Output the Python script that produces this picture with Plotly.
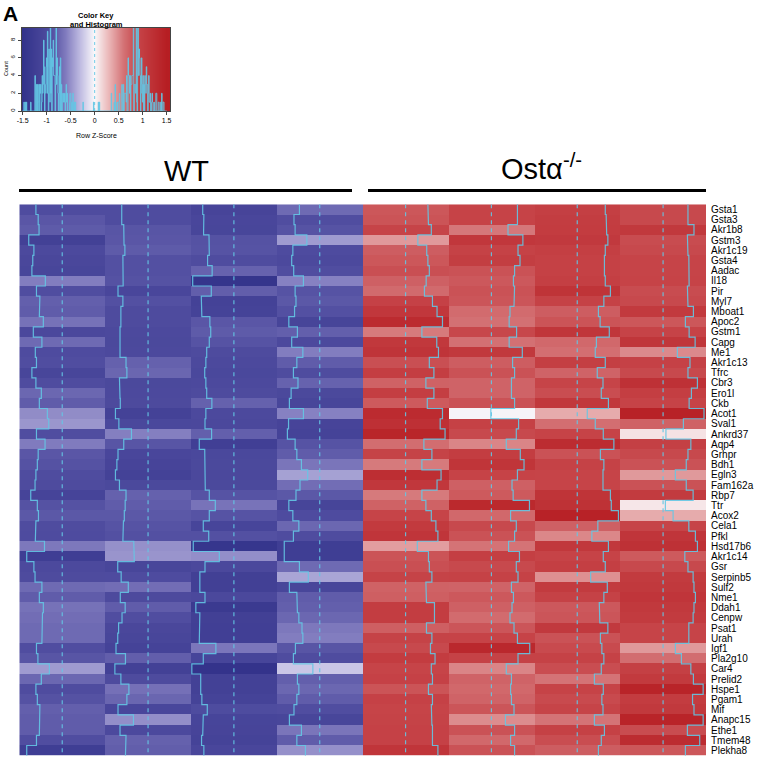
import numpy as np
import plotly.graph_objects as go

# genes, top to bottom
genes = ["Gsta1", "Gsta3", "Akr1b8", "Gstm3", "Akr1c19", "Gsta4", "Aadac", "Il18", "Pir",
         "Myl7", "Mboat1", "Apoc2", "Gstm1", "Capg", "Me1", "Akr1c13", "Tfrc", "Cbr3",
         "Ero1l", "Ckb", "Acot1", "Sval1", "Ankrd37", "Aqp4", "Grhpr", "Bdh1", "Egln3",
         "Fam162a", "Rbp7", "Ttr", "Acox2", "Cela1", "Pfkl", "Hsd17b6", "Akr1c14", "Gsr",
         "Serpinb5", "Sulf2", "Nme1", "Ddah1", "Cenpw", "Psat1", "Urah", "Igf1", "Pla2g10",
         "Car4", "Prelid2", "Hspe1", "Pgam1", "Mif", "Anapc15", "Ethe1", "Tmem48", "Plekha8"]

# row z-scores per sample column
wt_1 = [-0.92, -0.84, -0.81, -1.17, -0.99, -1.03, -1.06, -0.59, -0.90, -0.78, -0.80, -0.66, -1.01, -0.71,
        -0.94, -0.90, -1.06, -0.92, -0.73, -0.80, -0.52, -0.47, -0.90, -0.60, -0.84, -0.87, -0.92, -0.95,
        -1.10, -0.87, -0.83, -0.92, -0.94, -0.62, -1.24, -0.99, -0.95, -0.71, -0.80, -0.66, -0.69, -0.71,
        -0.71, -0.90, -0.85, -0.45, -0.73, -0.92, -0.87, -0.78, -0.80, -0.80, -0.90, -1.24]
wt_2 = [-0.92, -0.92, -0.85, -0.84, -0.81, -0.88, -0.88, -0.87, -1.05, -0.88, -0.95, -0.95, -0.98, -1.00,
        -0.98, -0.77, -0.74, -1.00, -0.98, -0.97, -1.14, -1.02, -0.58, -0.85, -1.05, -1.09, -1.14, -1.00,
        -0.77, -0.80, -0.83, -0.86, -0.88, -0.50, -0.48, -1.06, -0.94, -0.69, -0.97, -0.80, -0.91, -1.03,
        -1.06, -1.12, -0.79, -1.16, -0.95, -0.67, -0.74, -1.05, -0.51, -0.98, -0.77, -0.79]
wt_3 = [-1.09, -1.05, -1.06, -0.87, -0.86, -0.92, -0.76, -1.44, -0.79, -1.14, -1.12, -0.84, -0.81, -0.86,
        -0.95, -0.98, -1.02, -0.98, -0.95, -0.77, -0.98, -1.01, -0.78, -1.21, -1.02, -1.00, -1.01, -1.00,
        -0.86, -0.65, -0.86, -1.07, -0.88, -1.42, -0.51, -1.01, -1.19, -1.19, -1.01, -1.33, -1.19, -1.21,
        -1.21, -0.63, -1.07, -1.47, -1.16, -1.16, -1.12, -0.93, -1.07, -1.09, -1.13, -1.05]
wt_4 = [-0.71, -0.90, -0.86, -0.45, -0.94, -0.98, -0.91, -0.57, -0.86, -0.83, -0.88, -1.08, -0.78, -0.98,
        -0.59, -0.80, -0.92, -0.76, -1.00, -1.06, -0.57, -1.09, -1.13, -0.86, -0.80, -0.64, -0.42, -0.69,
        -0.83, -1.08, -0.94, -0.73, -0.92, -1.24, -1.24, -0.71, -0.40, -1.06, -0.80, -0.78, -0.73, -0.62,
        -0.59, -0.85, -0.92, -0.24, -0.78, -0.73, -0.80, -0.90, -1.06, -0.64, -0.80, -0.50]
ko_1 = [0.78, 0.80, 0.90, 0.43, 0.74, 0.78, 0.83, 0.72, 0.66, 0.94, 1.10, 1.29, 0.57, 1.09,
        1.15, 0.83, 0.99, 0.71, 0.99, 0.76, 1.29, 1.21, 1.38, 0.64, 0.92, 0.57, 1.24, 1.10,
        0.57, 0.71, 0.90, 1.06, 1.13, 0.41, 0.80, 0.83, 0.92, 0.71, 0.73, 1.01, 1.01, 0.73,
        0.92, 0.87, 1.03, 0.90, 0.94, 0.80, 0.94, 0.90, 0.92, 0.94, 0.94, 1.13]
ko_2 = [0.91, 0.91, 0.58, 1.10, 0.93, 1.00, 0.81, 0.77, 0.81, 0.79, 0.65, 0.62, 0.88, 0.62,
        1.08, 0.74, 0.81, 0.70, 0.70, 0.81, -0.02, 0.95, 0.87, 0.52, 1.01, 1.14, 0.91, 0.72,
        0.76, 1.33, 0.67, 0.87, 0.81, 0.60, 0.98, 0.87, 0.93, 0.70, 0.77, 0.72, 0.65, 0.79,
        0.91, 1.34, 0.93, 0.52, 0.70, 0.67, 0.70, 0.79, 0.49, 0.81, 0.67, 0.81]
ko_3 = [0.98, 1.01, 1.03, 1.07, 0.98, 0.95, 0.95, 0.98, 1.16, 0.93, 0.74, 0.80, 1.12, 0.67,
        0.63, 0.98, 0.70, 0.90, 0.84, 1.09, 0.35, 0.63, 0.91, 1.28, 0.81, 0.93, 0.90, 0.90,
        1.16, 1.19, 1.44, 0.72, 0.51, 1.09, 0.91, 0.98, 0.47, 1.05, 0.93, 0.77, 0.79, 1.07,
        0.81, 0.86, 0.93, 0.84, 0.60, 0.91, 0.86, 0.90, 0.60, 0.95, 0.84, 0.74]
ko_4 = [0.87, 0.87, 1.08, 0.85, 0.87, 0.90, 0.90, 0.91, 0.85, 0.87, 1.06, 0.78, 0.91, 1.12,
        0.50, 0.94, 0.87, 1.20, 0.99, 0.91, 1.43, 0.71, 0.10, 0.97, 0.87, 0.81, 0.43, 0.81,
        1.05, 0.08, 0.35, 0.90, 1.13, 1.20, 0.76, 0.87, 1.05, 1.08, 1.13, 1.08, 1.05, 0.90,
        0.90, 0.43, 0.64, 0.97, 1.06, 1.40, 1.03, 1.08, 1.40, 0.85, 1.28, 0.78]

key_ticks = [-1.5, -1, -0.5, 0, 0.5, 1, 1.5]
count_ticks = [0, 2, 4, 6, 8]

W, H = 765, 757
FONT = "Liberation Sans, Arial, sans-serif"
TRACE = "rgba(100,198,228,0.9)"

z = np.column_stack([wt_1, wt_2, wt_3, wt_4, ko_1, ko_2, ko_3, ko_4])
nrow, ncol = z.shape
lo, hi = -1.5, 1.5

cscale = [[0.0, "rgb(50,50,138)"], [0.2, "rgb(80,77,160)"], [0.3, "rgb(128,123,190)"],
          [0.4, "rgb(190,186,225)"], [0.5, "rgb(250,248,250)"], [0.6, "rgb(234,182,183)"],
          [0.7, "rgb(212,115,118)"], [0.8, "rgb(198,68,72)"], [1.0, "rgb(182,30,35)"]]


def px(x):
    return x / W


def py(y):
    return 1 - y / H


fig = go.Figure()

# main heatmap
fig.add_trace(go.Heatmap(z=z, x=list(range(ncol)), y=list(range(nrow)), colorscale=cscale,
                         zmin=lo, zmax=hi, showscale=False, hoverinfo="skip"))

# column traces (heatmap.2 style)
for i in range(ncol):
    xs = i - 0.5 + (np.clip(z[:, i], lo, hi) - lo) / (hi - lo)
    tx, ty = [], []
    for r in range(nrow):
        tx += [xs[r], xs[r]]
        ty += [r - 0.5, r + 0.5]
    fig.add_trace(go.Scatter(x=[i, i], y=[-0.5, nrow - 0.5], mode="lines",
                             line=dict(color=TRACE, width=1.2, dash="4px,4px"), hoverinfo="skip"))
    fig.add_trace(go.Scatter(x=tx, y=ty, mode="lines", line=dict(color=TRACE, width=1.2),
                             hoverinfo="skip"))

# color key with histogram
kx = np.linspace(-1.53, 1.58, 300)
kz = np.clip(kx, lo, hi)
fig.add_trace(go.Heatmap(z=[kz, kz], x=kx, y=[0, 9.4], colorscale=cscale, zmin=lo, zmax=hi,
                         showscale=False, xaxis="x2", yaxis="y2", hoverinfo="skip"))
edges = np.linspace(lo - 0.005, hi + 0.005, 302)
counts, _ = np.histogram(z.ravel(), bins=edges)
fig.add_trace(go.Scatter(x=edges, y=list(counts) + [counts[-1]], mode="lines", line_shape="hv",
                         line=dict(color=TRACE, width=1), xaxis="x2", yaxis="y2", hoverinfo="skip"))
fig.add_trace(go.Scatter(x=[0, 0], y=[0, 9.4], mode="lines", line=dict(color=TRACE, width=1, dash="3px,3px"),
                         xaxis="x2", yaxis="y2", hoverinfo="skip"))

fig.update_layout(
    width=W, height=H, margin=dict(l=0, r=0, t=0, b=0),
    paper_bgcolor="white", plot_bgcolor="white", showlegend=False,
    font=dict(family=FONT, color="black"),
    xaxis=dict(domain=[px(19.3), px(706)], range=[-0.5, ncol - 0.5], visible=False, fixedrange=True,
               automargin=False),
    yaxis=dict(domain=[py(755.7), py(204.3)], range=[nrow - 0.5, -0.5], side="right",
               tickvals=list(range(nrow)), ticktext=genes, tickfont=dict(size=10),
               ticks="", showgrid=False, zeroline=False, showline=False, ticklabelstandoff=4,
               automargin=False),
    xaxis2=dict(domain=[px(21.7), px(170)], range=[-1.52, 1.57], anchor="y2",
                tickvals=key_ticks, ticktext=[str(t) for t in key_ticks], tickfont=dict(size=7),
                ticks="outside", ticklen=3, showgrid=False, zeroline=False, automargin=False,
                showline=True, linecolor="#444", linewidth=1, mirror=True),
    yaxis2=dict(domain=[py(111), py(27.7)], range=[0, 9.4], anchor="x2",
                tickvals=count_ticks, tickfont=dict(size=6), tickangle=-90,
                ticks="outside", ticklen=3, showgrid=False, zeroline=False, automargin=False,
                showline=True, linecolor="#444", linewidth=1, mirror=True),
)

ann = [
    dict(text="<b>A</b>", x=px(1), y=py(0), xanchor="left", yanchor="top", font=dict(size=21)),
    dict(text="<b>Color Key</b>", x=px(96), y=py(15), xanchor="center", yanchor="middle", font=dict(size=7.5)),
    dict(text="<b>and Histogram</b>", x=px(96), y=py(24), xanchor="center", yanchor="middle", font=dict(size=7.5)),
    dict(text="Row Z-Score", x=px(96), y=py(135), xanchor="center", yanchor="middle", font=dict(size=7)),
    dict(text="Count", x=px(6), y=py(69), xanchor="center", yanchor="middle", textangle=-90, font=dict(size=5.5)),
    dict(text="WT", x=px(186), y=py(171), xanchor="center", yanchor="middle", font=dict(size=29)),
    dict(text="Ost\u03b1<sup>-/-</sup>", x=px(541), y=py(167), xanchor="center", yanchor="middle", font=dict(size=29)),
]
for a in ann:
    a.update(xref="paper", yref="paper", showarrow=False)
fig.update_layout(annotations=ann)

for x0, x1 in [(19, 352), (368, 706)]:
    fig.add_shape(type="line", xref="paper", yref="paper", x0=px(x0), x1=px(x1), y0=py(190.5), y1=py(190.5),
                  line=dict(color="black", width=3))

# page body has a default margin; remove it so the figure sits at the window's corner
fig.write_html("out.html", config={"displayModeBar": False},
               post_script="document.body.style.margin='0';document.body.style.overflow='hidden';")
